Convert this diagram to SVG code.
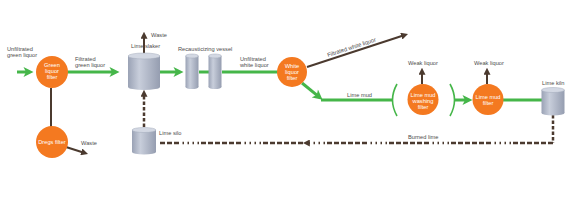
<svg xmlns="http://www.w3.org/2000/svg" width="570" height="200" viewBox="0 0 570 200">
<style>
text{font-family:"Liberation Sans",Arial,sans-serif;font-size:5.7px;fill:#4d4d4d}
.w{fill:#ffffff;text-anchor:middle}
.node circle{fill:#f47920}
.g{stroke:#45b649;stroke-width:3;fill:none}
.gt{stroke:#45b649;stroke-width:1.6;fill:none}
.b{stroke:#4b3a2f;stroke-width:2;fill:none}
.bd{stroke:#4b3a2f;stroke-width:2.5;fill:none;stroke-dasharray:3.5 2}
.dot{stroke:#4b3a2f;stroke-width:2.5;fill:none;stroke-dasharray:5 2 5 2 5 2 5 2 5 2 5 2 1.5 3.5 1.5 3.5 1.5 3.5 1.5 3.5}
.cyl rect{fill:url(#cg)}
.cyl ellipse.t{fill:#d3d8e3;stroke:#a2aabb;stroke-width:0.5}
.cyl ellipse.bt{fill:url(#cg)}
</style>
<defs>
<linearGradient id="cg" x1="0" y1="0" x2="1" y2="0">
<stop offset="0" stop-color="#9aa2b5"/>
<stop offset="0.35" stop-color="#c8cedb"/>
<stop offset="1" stop-color="#959db0"/>
</linearGradient>
<marker id="ga" viewBox="0 0 10 10" refX="5" refY="5" markerWidth="11" markerHeight="10" markerUnits="userSpaceOnUse" orient="auto">
<path d="M0,0 L10,5 L0,10 L2.5,5 z" fill="#45b649"/>
</marker>
<marker id="ba" viewBox="0 0 10 10" refX="4" refY="5" markerWidth="7" markerHeight="7" markerUnits="userSpaceOnUse" orient="auto">
<path d="M0,0 L10,5 L0,10 z" fill="#4b3a2f"/>
</marker>
</defs>
<g id="connectors">
<line class="g" x1="17" y1="72" x2="28.5" y2="72" marker-end="url(#ga)"/>
<line class="g" x1="67" y1="72" x2="114.5" y2="72" marker-end="url(#ga)"/>
<line class="g" x1="160" y1="72" x2="178.5" y2="72" marker-end="url(#ga)"/>
<line class="g" x1="199" y1="72" x2="209" y2="72"/>
<line class="g" x1="222" y1="72" x2="278" y2="72"/>
<line class="g" x1="302" y1="83" x2="318.7" y2="96.6" marker-end="url(#ga)"/>
<line class="g" x1="321" y1="100" x2="393" y2="100"/>
<path class="gt" d="M397,84 Q388,100 397,116"/>
<path class="gt" d="M450,84 Q459,100 450,116"/>
<line class="g" x1="455" y1="100" x2="467.5" y2="100" marker-end="url(#ga)"/>
<line class="g" x1="503" y1="100" x2="542" y2="100"/>
<line class="b" x1="144" y1="54" x2="144" y2="36" marker-end="url(#ba)"/>
<line class="bd" x1="144" y1="127" x2="144" y2="94" marker-end="url(#ba)"/>
<line class="b" x1="307" y1="67" x2="404" y2="35.3" marker-end="url(#ba)"/>
<line class="b" x1="422" y1="84" x2="422" y2="72" marker-end="url(#ba)"/>
<line class="b" x1="487" y1="84" x2="487" y2="72" marker-end="url(#ba)"/>
<line class="b" x1="51" y1="88" x2="51" y2="127"/>
<line class="b" x1="66" y1="147" x2="84" y2="152.7" marker-end="url(#ba)"/>
<line class="bd" x1="553" y1="115" x2="553" y2="143"/>
<line class="dot" x1="553" y1="143" x2="307" y2="143" marker-end="url(#ba)"/>
<line class="dot" x1="303" y1="143" x2="158" y2="143"/>
</g>
<g id="green-liquor-filter" class="node">
<circle cx="52" cy="72" r="16"/>
<text class="w" x="52" y="67">Green</text>
<text class="w" x="52" y="73">liquor</text>
<text class="w" x="52" y="79">filter</text>
</g>
<g id="dregs-filter" class="node">
<circle cx="52" cy="142" r="16"/>
<text class="w" x="52" y="144">Dregs filter</text>
</g>
<g id="lime-slaker" class="cyl">
<ellipse class="bt" cx="144" cy="87" rx="16" ry="3"/>
<rect x="128" y="56" width="32" height="31"/>
<ellipse class="t" cx="144" cy="56" rx="16" ry="3"/>
<text x="131" y="48">Lime slaker</text>
</g>
<g id="recausticizing-vessel" class="cyl">
<ellipse class="bt" cx="192" cy="87" rx="6.5" ry="2"/>
<rect x="185.5" y="56" width="13" height="31"/>
<ellipse class="t" cx="192" cy="56" rx="6.5" ry="2"/>
<ellipse class="bt" cx="215" cy="87" rx="6.5" ry="2"/>
<rect x="208.5" y="56" width="13" height="31"/>
<ellipse class="t" cx="215" cy="56" rx="6.5" ry="2"/>
<text x="178" y="51">Recausticizing vessel</text>
</g>
<g id="white-liquor-filter" class="node">
<circle cx="292" cy="72" r="15"/>
<text class="w" x="292" y="68">White</text>
<text class="w" x="292" y="74">liquor</text>
<text class="w" x="292" y="80">filter</text>
</g>
<g id="lime-mud-washing-filter" class="node">
<circle cx="423" cy="99.5" r="15.5"/>
<text class="w" x="423" y="96.5">Lime mud</text>
<text class="w" x="423" y="102.5">washing</text>
<text class="w" x="423" y="108.5">filter</text>
</g>
<g id="lime-mud-filter" class="node">
<circle cx="488" cy="99.5" r="15.5"/>
<text class="w" x="488" y="99">Lime mud</text>
<text class="w" x="488" y="105">filter</text>
</g>
<g id="lime-kiln" class="cyl">
<ellipse class="bt" cx="553" cy="113" rx="11.5" ry="2.5"/>
<rect x="541.5" y="90" width="23" height="23"/>
<ellipse class="t" cx="553" cy="90" rx="11.5" ry="2.5"/>
<text x="542" y="85">Lime kiln</text>
</g>
<g id="lime-silo" class="cyl">
<ellipse class="bt" cx="144" cy="152" rx="12" ry="2.5"/>
<rect x="132" y="130" width="24" height="22"/>
<ellipse class="t" cx="144" cy="130" rx="12" ry="2.5"/>
<text x="159" y="135">Lime silo</text>
</g>
<g id="labels">
<text x="7" y="50.5">Unfiltrated</text>
<text x="7" y="57">green liquor</text>
<text x="75" y="61">Filtrated</text>
<text x="75" y="67">green liquor</text>
<text x="151" y="37">Waste</text>
<text x="240" y="61">Unfiltrated</text>
<text x="240" y="67">white liquor</text>
<text x="328" y="57" transform="rotate(-18 328 57)">Filtrated white liquor</text>
<text x="347" y="97">Lime mud</text>
<text x="408" y="65">Weak liquor</text>
<text x="474" y="65">Weak liquor</text>
<text x="408" y="139">Burned lime</text>
<text x="81" y="145">Waste</text>
</g>
</svg>
